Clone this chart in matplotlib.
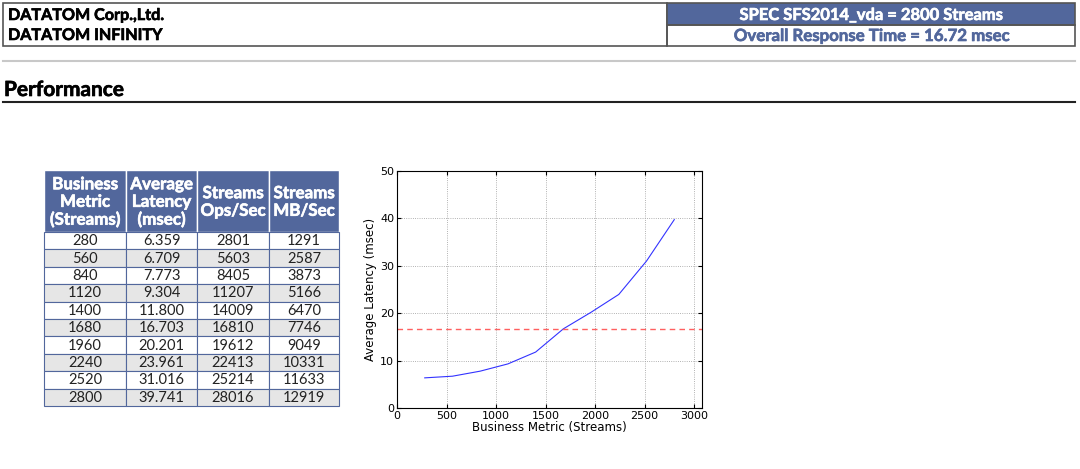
import matplotlib
matplotlib.use("Agg")
import matplotlib.pyplot as plt
from matplotlib.patches import Rectangle
import matplotlib.patheffects as pe

company = "DATATOM Corp.,Ltd."
product = "DATATOM INFINITY"
spec_title = "SPEC SFS2014_vda = 2800 Streams"
overall_rt = "Overall Response Time = 16.72 msec"
section = "Performance"

headers = ["Business\nMetric\n(Streams)", "Average\nLatency\n(msec)", "Streams\nOps/Sec", "Streams\nMB/Sec"]
business_metric = [280, 560, 840, 1120, 1400, 1680, 1960, 2240, 2520, 2800]
avg_latency = ["6.359", "6.709", "7.773", "9.304", "11.800", "16.703", "20.201", "23.961", "31.016", "39.741"]
ops_sec = [2801, 5603, 8405, 11207, 14009, 16810, 19612, 22413, 25214, 28016]
mb_sec = [1291, 2587, 3873, 5166, 6470, 7746, 9049, 10331, 11633, 12919]
overall_response = 16.72

W, H = 1080, 469
fig = plt.figure(figsize=(W / 100, H / 100), dpi=100)
bg = fig.add_axes([0, 0, 1, 1])
bg.set_xlim(0, W)
bg.set_ylim(H, 0)
bg.axis("off")

FONT = ["Lato", "DejaVu Sans"]
blue = "#52679c"


def bold(color, w=0.45):
    return [pe.withStroke(linewidth=w, foreground=color)]


# header boxes
bg.add_patch(Rectangle((3, 3), 664, 43, fill=False, ec="#555555", lw=1.2))
bg.text(8, 16, company, fontsize=11.6, fontweight="bold", family=FONT, va="center", path_effects=bold("black"))
bg.text(8, 36, product, fontsize=11.6, fontweight="bold", family=FONT, va="center", path_effects=bold("black"))
bg.add_patch(Rectangle((667, 3), 408, 22, fc=blue, ec="#555555", lw=1.2))
bg.add_patch(Rectangle((667, 25), 408, 21, fill=False, ec="#555555", lw=1.2))
bg.text(871, 15, spec_title, fontsize=11.9, fontweight="bold", family=FONT, va="center", ha="center",
        color="white", path_effects=bold("white"))
bg.text(871, 36, overall_rt, fontsize=12.1, fontweight="bold", family=FONT, va="center", ha="center",
        color=blue, path_effects=bold(blue))

bg.plot([3, 1075], [61, 61], color="#c8c8c8", lw=1.5)
bg.text(4, 90, section, fontsize=15, fontweight="bold", family=FONT, va="center", path_effects=bold("black"))
bg.plot([3, 1075], [102, 102], color="#222222", lw=1.5)

# table
cols = [44, 126, 197, 269, 339]
top, hdr_bot = 170, 232
row_h = (406 - hdr_bot) / len(business_metric)
for j in range(4):
    bg.add_patch(Rectangle((cols[j], top), cols[j + 1] - cols[j], hdr_bot - top, fc=blue, ec="white", lw=1.0))
    bg.text((cols[j] + cols[j + 1]) / 2, (top + hdr_bot) / 2 + 1, headers[j], color="white", fontsize=12.2,
            fontweight="bold", family=FONT, ha="center", va="center", linespacing=1.12,
            path_effects=bold("white"))
for i in range(len(business_metric)):
    y0 = hdr_bot + i * row_h
    fc = "white" if i % 2 == 0 else "#e6e6e6"
    vals = [str(business_metric[i]), avg_latency[i], str(ops_sec[i]), str(mb_sec[i])]
    for j in range(4):
        bg.add_patch(Rectangle((cols[j], y0), cols[j + 1] - cols[j], row_h, fc=fc, ec="#52679c", lw=0.8))
        bg.text((cols[j] + cols[j + 1]) / 2, y0 + row_h / 2 + 0.5, vals[j], fontsize=10.5, family=FONT,
                ha="center", va="center", color="#222222")

# plot
x0p, x1p, y0p, y1p = 397, 702, 171, 408
ax = fig.add_axes([x0p / W, (H - y1p) / H, (x1p - x0p) / W, (y1p - y0p) / H])
lat = [float(v) for v in avg_latency]
ax.plot(business_metric, lat, color="#3333ff", lw=0.8)
ax.axhline(overall_response, color="#ff6060", ls="--", lw=1.0, dashes=(4, 3))
ax.set_xlim(0, 3080)
ax.set_ylim(0, 50)
ax.set_xticks([0, 500, 1000, 1500, 2000, 2500, 3000])
ax.set_yticks([0, 10, 20, 30, 40, 50])
ax.grid(True, ls=":", color="#999999", lw=0.6)
ax.tick_params(direction="in", labelsize=8, length=3, pad=2)
ax.tick_params(top=True, right=True)
ax.set_xlabel("Business Metric (Streams)", fontsize=8.5, labelpad=0)
ax.set_ylabel("Average Latency (msec)", fontsize=8.5, labelpad=2)
for s in ax.spines.values():
    s.set_linewidth(0.8)

fig.savefig("out.png", dpi=100)
